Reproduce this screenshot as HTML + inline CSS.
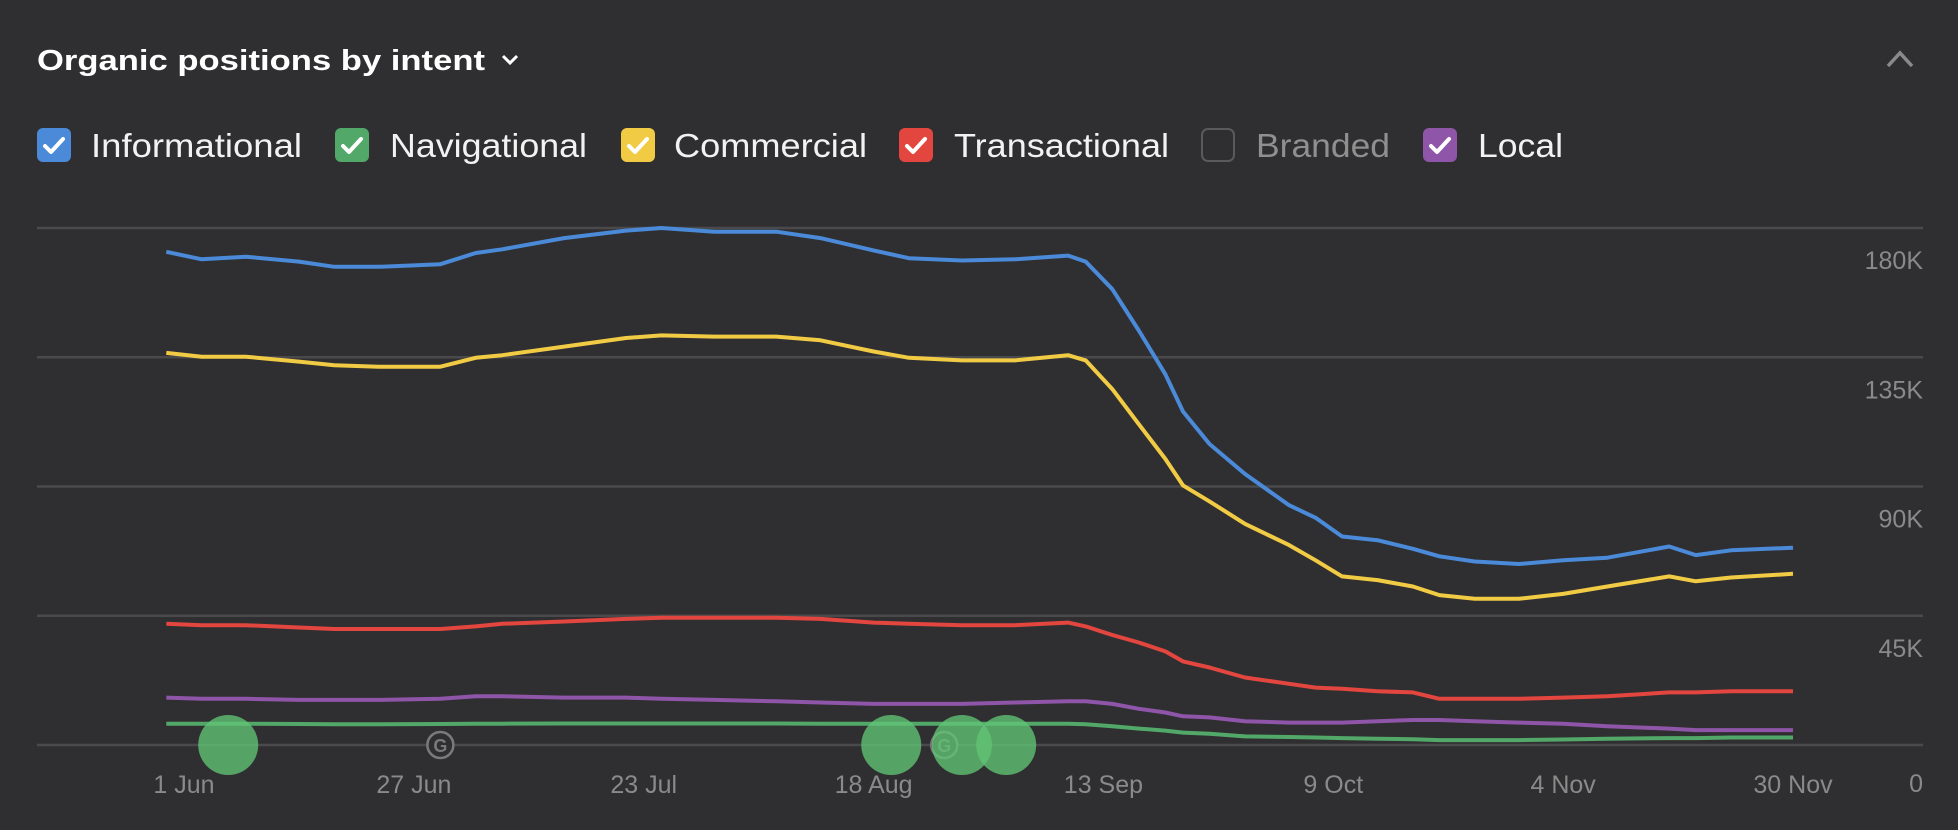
<!DOCTYPE html>
<html><head><meta charset="utf-8"><style>
html,body{margin:0;padding:0;background:#2f2f31;}
svg{display:block;font-family:"Liberation Sans",sans-serif;}
</style></head><body>
<svg id="chart" width="1958" height="830" viewBox="0 0 1958 830">
<rect x="0" y="0" width="1958" height="830" fill="#2f2f31"/>
<g>
<text x="37" y="70" font-size="29" font-weight="bold" fill="#ffffff" textLength="448" lengthAdjust="spacingAndGlyphs">Organic positions by intent</text>
<path d="M503 56 l7 7 l7 -7" stroke="#fff" stroke-width="3" fill="none"/>
</g>
<path d="M1888 66 l12 -13 l12 13" stroke="#8a8a8a" stroke-width="3.5" fill="none"/>
<g id="legend"></g>
<g id="grid"></g>
<g id="series"></g>
<g id="markers"></g>
<g id="xaxis"></g>
<g id="yaxis"></g>
</svg>
<script>
const days=[-2,2,7,13,17,22,29,33,36,43,50,54,60,67,72,78,82,88,94,100,102,105,108,111,113,116,120,125,128,131,135,139,142,146,151,156,161,168,171,175,182];
const informational=[171.7,169.1,170,168.3,166.5,166.5,167.4,171.3,172.6,176.5,179.1,180,178.7,178.7,176.5,172.2,169.5,168.7,169.1,170.4,168.3,158.7,144.3,129.1,116.1,104.8,94.4,83.5,79.1,72.6,71.3,68.3,65.7,63.9,63,64.3,65.2,69.1,66.1,67.8,68.7];
const commercial=[136.5,135.2,135.2,133.5,132.2,131.7,131.7,134.8,135.7,138.7,141.7,142.6,142.2,142.2,140.9,137,134.8,133.9,133.9,135.7,133.9,123.9,111.7,99.6,90.4,84.8,77,69.6,64.3,58.7,57.4,55.2,52.2,50.9,50.9,52.6,55.2,58.7,57,58.3,59.6];
const transactional=[42.2,41.7,41.7,40.9,40.4,40.4,40.4,41.3,42.2,43,43.9,44.3,44.3,44.3,43.9,42.6,42.2,41.7,41.7,42.6,41.3,38.3,35.7,32.6,29.1,27,23.5,21.3,20,19.6,18.7,18.3,16.1,16.1,16.1,16.5,17,18.3,18.3,18.7,18.7];
const local=[16.5,16.1,16.1,15.7,15.7,15.7,16.1,17,17,16.5,16.5,16.1,15.7,15.2,14.8,14.3,14.3,14.3,14.8,15.2,15.2,14.3,12.6,11.3,10,9.6,8.3,7.8,7.8,7.8,8.3,8.7,8.7,8.3,7.8,7.4,6.5,5.7,5.2,5.2,5.2];
const navigational=[7.4,7.4,7.4,7.3,7.2,7.2,7.3,7.4,7.4,7.5,7.5,7.5,7.5,7.5,7.4,7.4,7.4,7.4,7.4,7.4,7.2,6.5,5.7,5,4.3,3.9,3,2.8,2.6,2.4,2.2,2,1.7,1.7,1.7,1.9,2.2,2.4,2.4,2.6,2.6];
const tickDays=[0,26,52,78,104,130,156,182];
const tickLabels=["1 Jun","27 Jun","23 Jul","18 Aug","13 Sep","9 Oct","4 Nov","30 Nov"];
const yTicks=[0,45,90,135,180];
const yTickLabels=["0","45K","90K","135K","180K"];
const eventDays=[5,80,88,93];
const googleDays=[29,86];

const NS="http://www.w3.org/2000/svg";
function xs(d){return 184+d*(1609/182);}
function ys(v){return 745-v*(129.25/45);}
function mk(tag,attrs,parent){const e=document.createElementNS(NS,tag);for(const k in attrs)e.setAttribute(k,attrs[k]);parent.appendChild(e);return e;}

const legendItems=[["Informational","#4a8ad8",37,91,true,211],["Navigational","#52a869",335,390,true,197],["Commercial","#f2cb45",621,674,true,193],["Transactional","#e3463f",899,954,true,215],["Branded","",1201,1256,false,134],["Local","#8e55a8",1423,1478,true,85]];
const lg=document.getElementById('legend');
legendItems.forEach(it=>{
  const g=mk('g',{},lg);
  
  
  if(it[4]){
    mk('rect',{x:it[2],y:128,width:34,height:34,rx:6,fill:it[1]},g);
    mk('path',{d:`M${it[2]+8} ${146} l6 6 l12 -13`,stroke:'#fff','stroke-width':4,fill:'none','stroke-linecap':'round','stroke-linejoin':'round'},g);
  } else {
    mk('rect',{x:it[2]+1,y:129,width:32,height:32,rx:6,fill:'none',stroke:'#5a5a5c','stroke-width':2},g);
  }
  const t=mk('text',{x:it[3],y:157,'font-size':33,fill:it[4]?'#f2f2f2':'#8f8f8f',textLength:it[5],lengthAdjust:'spacingAndGlyphs'},g);
  t.textContent=it[0];
});

const gr=document.getElementById('grid');
yTicks.forEach((v,i)=>{
  const l=mk('line',{x1:37,x2:1923,y1:ys(v),y2:ys(v),stroke:'#4a4a4c','stroke-width':2.5},gr);
  
  
});
const ya=document.getElementById('yaxis');
yTicks.forEach((v,i)=>{
  const t=mk('text',{x:1923,y:ys(v)+(v===0?47:41),'text-anchor':'end','font-size':25,fill:'#8a8a8a'},ya);
  
  
  t.textContent=yTickLabels[i];
});
const xa=document.getElementById('xaxis');
tickDays.forEach((d,i)=>{
  const t=mk('text',{x:xs(d),y:793,'text-anchor':'middle','font-size':25,fill:'#8a8a8a'},xa);
  
  
  t.textContent=tickLabels[i];
});

const sg=document.getElementById('series');
[[informational,'#4a8ad8','informational'],[commercial,'#f2cb45','commercial'],[transactional,'#e3463f','transactional'],[local,'#8e55a8','local'],[navigational,'#52a869','navigational']].forEach(s=>{
  const d=s[0].map((v,i)=>(i?'L':'M')+xs(days[i]).toFixed(1)+' '+ys(v).toFixed(1)).join(' ');
  const p=mk('path',{d:d,stroke:s[1],'stroke-width':4,fill:'none','stroke-linejoin':'round'},sg);
  
  
});

const mg=document.getElementById('markers');
googleDays.forEach(d=>{
  const g=mk('g',{},mg);
  
  
  mk('circle',{cx:xs(d),cy:745,r:13,fill:'#2f2f31',stroke:'#7a7a7a','stroke-width':2.5},g);
  const t=mk('text',{x:xs(d),y:752,'text-anchor':'middle','font-size':18,'font-weight':'bold',fill:'#7a7a7a'},g);
  t.textContent='G';
});
eventDays.forEach(d=>{
  const c=mk('circle',{cx:xs(d),cy:745,r:30,fill:'rgba(98,196,118,0.78)'},mg);
  
  
});
</script>
</body></html>
